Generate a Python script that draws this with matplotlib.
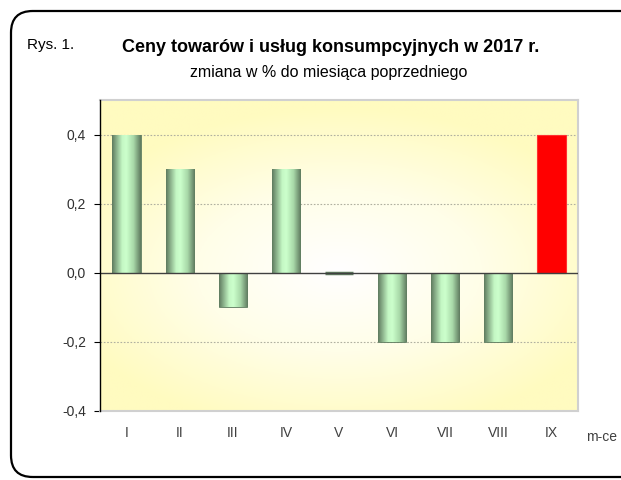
import numpy as np
import matplotlib
matplotlib.use("Agg")
import matplotlib.pyplot as plt
from matplotlib.patches import FancyBboxPatch
from matplotlib.ticker import FuncFormatter
from matplotlib.colors import LinearSegmentedColormap

plt.rcParams['font.family'] = ['Liberation Sans Narrow', 'Liberation Sans', 'DejaVu Sans']

months = ["I", "II", "III", "IV", "V", "VI", "VII", "VIII", "IX"]
values = [0.4, 0.3, -0.1, 0.3, 0.0, -0.2, -0.2, -0.2, 0.4]
highlight = [False] * 8 + [True]
yticks = [-0.4, -0.2, 0.0, 0.2, 0.4]

W, H = 621, 480
fig = plt.figure(figsize=(W / 100, H / 100), dpi=100)
fig.patch.set_facecolor("white")

# rounded frame
frame = FancyBboxPatch((11 / W, 3 / H), (W + 40) / W, (H - 14) / H,
                       boxstyle="round,pad=0,rounding_size=0.035",
                       transform=fig.transFigure, fill=False, ec="black", lw=1.6,
                       mutation_aspect=W / H)
fig.patches.append(frame)

ax = fig.add_axes([100 / W, (H - 411) / H, 478 / W, 311 / H])
ax.set_xlim(-0.5, len(months) - 0.5)
ax.set_ylim(-0.4, 0.5)

# background radial gradient
ny, nx = 200, 300
yy, xx = np.mgrid[0:1:ny * 1j, 0:1:nx * 1j]
r = np.sqrt(((xx - 0.5) / 0.8) ** 2 + ((yy - 0.45) / 0.7) ** 2)
r = np.clip(r / 0.75, 0, 1)
bg_cmap = LinearSegmentedColormap.from_list("bg", ["#FFFFFF", "#FFFEE8", "#FFFBC0"])
ax.imshow(r, cmap=bg_cmap, extent=[0, 1, 0, 1], transform=ax.transAxes,
          aspect="auto", zorder=0, vmin=0, vmax=1, origin="lower")

for y in yticks:
    if y != 0:
        ax.axhline(y, color="#B0B0A0", lw=0.8, ls=(0, (1.5, 1.5)), zorder=1)

x = np.arange(len(months))
bar_cmap = LinearSegmentedColormap.from_list(
    "barg", [(0, "#5F7B5F"), (0.35, "#C4F7C4"), (0.5, "#CCFFCC"), (0.75, "#A8D8A8"), (1, "#5F7B5F")])
grad = np.linspace(0, 1, 100).reshape(1, -1)

bars = ax.bar(x, values, width=0.53, zorder=2)
for b, v, hl in zip(bars, values, highlight):
    if hl:
        b.set_facecolor("#FF0000")
        b.set_edgecolor("#FF3030")
        b.set_linewidth(0.8)
    else:
        b.set_facecolor("#9CC89C")
        b.set_edgecolor("#5F7B5F")
        b.set_linewidth(0.6 if v != 0 else 2.5)
        bx, bw = b.get_x(), b.get_width()
        by, bh = b.get_y(), b.get_height()
        if bh != 0:
            im = ax.imshow(grad, cmap=bar_cmap, extent=[bx, bx + bw, by, by + bh],
                           aspect="auto", zorder=3)
            im.set_clip_path(b)

ax.axhline(0, color="#404040", lw=1.0, zorder=4)

for s in ["top", "right", "bottom"]:
    ax.spines[s].set_color("#D0D0D0")
    ax.spines[s].set_linewidth(1.5)
ax.spines["left"].set_color("black")
ax.spines["left"].set_linewidth(1.0)
ax.spines["left"].set_zorder(5)

ax.set_yticks(yticks)
ax.yaxis.set_major_formatter(FuncFormatter(lambda v, p: f"{v:.1f}".replace(".", ",").replace("-0,0", "0,0")))
ax.tick_params(axis="y", direction="out", length=4, width=0.8, labelsize=10, pad=6)
ax.tick_params(axis="y", labelcolor="#303030")
ax.set_xticks(x)
ax.set_xticklabels(months)
ax.tick_params(axis="x", length=0, labelsize=10, pad=11, labelcolor="#404040")

fig.text(27 / W, 1 - 45 / H, "Rys. 1.", fontsize=11, ha="left", va="center")
fig.text(331 / W, 1 - 48 / H, "Ceny towarów i usług konsumpcyjnych w 2017 r.",
         fontsize=13, fontweight="bold", ha="center", va="center")
fig.text(329 / W, 1 - 72 / H, "zmiana w % do miesiąca poprzedniego",
         fontsize=11.5, ha="center", va="center")
fig.text(586 / W, 1 - 437 / H, "m-ce", fontsize=10, ha="left", va="center", color="#404040")

fig.savefig("out.png", dpi=100)
